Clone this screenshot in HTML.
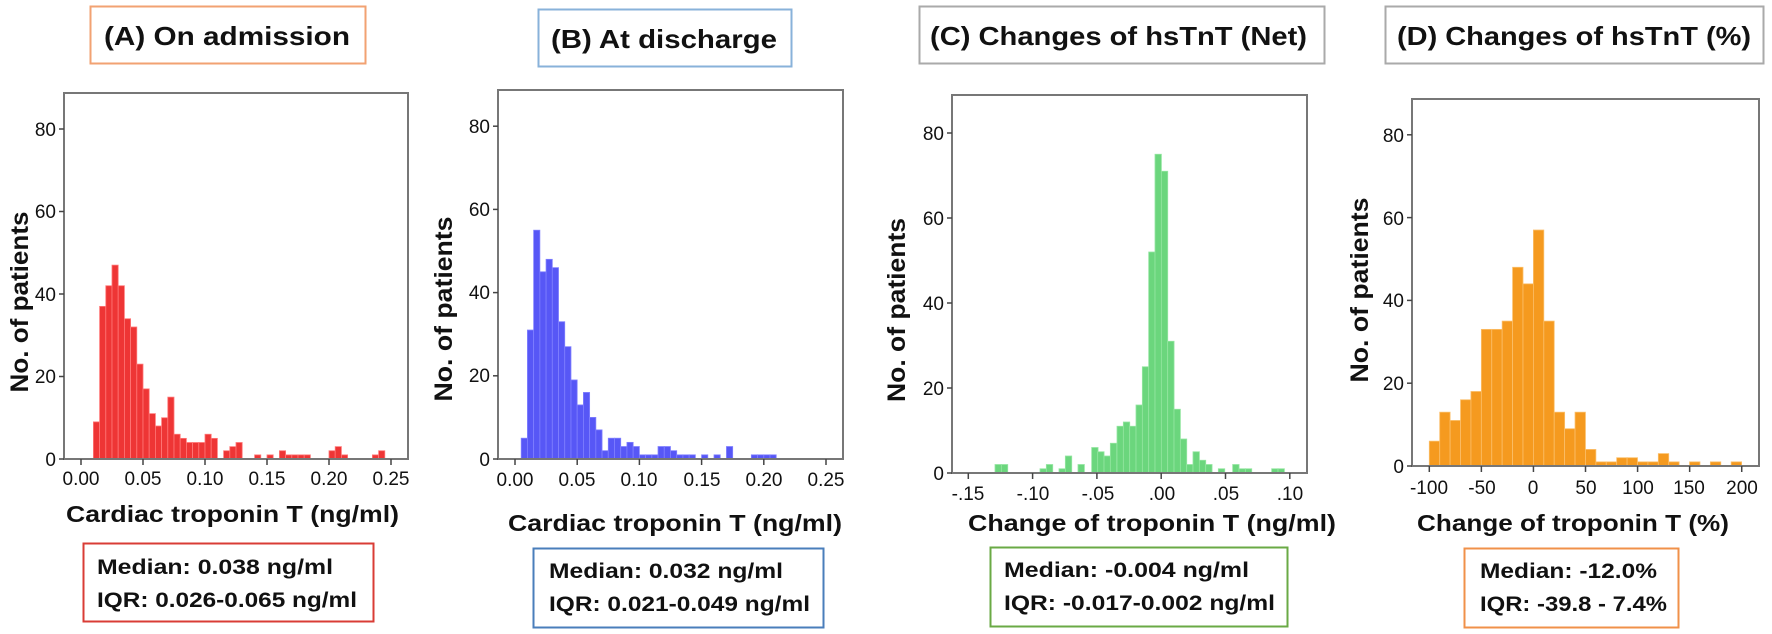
<!DOCTYPE html>
<html><head><meta charset="utf-8"><style>
html,body{margin:0;padding:0;background:#fff;}
svg{display:block;}
text{font-family:"Liberation Sans",sans-serif;fill:#111;}
.t{font-weight:bold;font-size:26px;}
.ax{font-weight:bold;font-size:23px;}
.st{font-weight:bold;font-size:21px;}
.yl{font-weight:bold;font-size:25px;}
.tk{font-size:19px;fill:#222;}
</style></head><body>
<svg id="s" width="1772" height="634" viewBox="0 0 1772 634" xmlns="http://www.w3.org/2000/svg">
<rect width="1772" height="634" fill="#fff"/>
<!-- title boxes -->
<rect x="90.5" y="6.5" width="275" height="57" fill="#fff" stroke="#f2a272" stroke-width="2"/>
<text class="t" x="104" y="45" textLength="246" lengthAdjust="spacingAndGlyphs">(A) On admission</text>
<rect x="538.5" y="9.5" width="253" height="57" fill="#fff" stroke="#88b2da" stroke-width="2"/>
<text class="t" x="551" y="48" textLength="226" lengthAdjust="spacingAndGlyphs">(B) At discharge</text>
<rect x="919.5" y="6.5" width="405" height="57" fill="#fff" stroke="#aaa" stroke-width="2"/>
<text class="t" x="930" y="45" textLength="377" lengthAdjust="spacingAndGlyphs">(C) Changes of hsTnT (Net)</text>
<rect x="1385.5" y="6.5" width="378" height="57" fill="#fff" stroke="#aaa" stroke-width="2"/>
<text class="t" x="1397" y="45" textLength="354" lengthAdjust="spacingAndGlyphs">(D) Changes of hsTnT (%)</text>

<g id="bars"></g>

<!-- frames -->
<rect x="64" y="93" width="344" height="366" fill="none" stroke="#777" stroke-width="2"/>
<rect x="498" y="90" width="345" height="369" fill="none" stroke="#777" stroke-width="2"/>
<rect x="952" y="95" width="355" height="378" fill="none" stroke="#777" stroke-width="2"/>
<rect x="1412" y="99" width="347" height="367" fill="none" stroke="#777" stroke-width="2"/>
<g id="ticks" stroke="#444" stroke-width="1.5"></g>

<!-- y tick labels -->
<g class="tk" text-anchor="end">
<text x="56" y="136">80</text><text x="56" y="218">60</text><text x="56" y="301">40</text><text x="56" y="383">20</text><text x="56" y="466">0</text>
<text x="490" y="133">80</text><text x="490" y="216">60</text><text x="490" y="299">40</text><text x="490" y="382">20</text><text x="490" y="466">0</text>
<text x="944" y="140">80</text><text x="944" y="225">60</text><text x="944" y="310">40</text><text x="944" y="395">20</text><text x="944" y="480">0</text>
<text x="1404" y="142">80</text><text x="1404" y="225">60</text><text x="1404" y="307">40</text><text x="1404" y="390">20</text><text x="1404" y="473">0</text>
</g>
<!-- x tick labels -->
<g class="tk" text-anchor="middle">
<text x="81" y="485">0.00</text><text x="143" y="485">0.05</text><text x="205" y="485">0.10</text><text x="267" y="485">0.15</text><text x="329" y="485">0.20</text><text x="391" y="485">0.25</text>
<text x="515" y="486">0.00</text><text x="577" y="486">0.05</text><text x="639" y="486">0.10</text><text x="702" y="486">0.15</text><text x="764" y="486">0.20</text><text x="826" y="486">0.25</text>
<text x="968" y="500">-.15</text><text x="1033" y="500">-.10</text><text x="1098" y="500">-.05</text><text x="1162" y="500">.00</text><text x="1226" y="500">.05</text><text x="1290" y="500">.10</text>
<text x="1429" y="494">-100</text><text x="1482" y="494">-50</text><text x="1533" y="494">0</text><text x="1586" y="494">50</text><text x="1638" y="494">100</text><text x="1689" y="494">150</text><text x="1742" y="494">200</text>
</g>

<!-- y axis titles -->
<text class="yl" transform="translate(28,302) rotate(-90)" text-anchor="middle" textLength="181" lengthAdjust="spacingAndGlyphs">No. of patients</text>
<text class="yl" transform="translate(452,309) rotate(-90)" text-anchor="middle" textLength="185" lengthAdjust="spacingAndGlyphs">No. of patients</text>
<text class="yl" transform="translate(905,310) rotate(-90)" text-anchor="middle" textLength="184" lengthAdjust="spacingAndGlyphs">No. of patients</text>
<text class="yl" transform="translate(1368,290) rotate(-90)" text-anchor="middle" textLength="185" lengthAdjust="spacingAndGlyphs">No. of patients</text>

<!-- x axis titles -->
<text class="ax" x="66" y="522" textLength="333" lengthAdjust="spacingAndGlyphs">Cardiac troponin T (ng/ml)</text>
<text class="ax" x="508" y="531" textLength="334" lengthAdjust="spacingAndGlyphs">Cardiac troponin T (ng/ml)</text>
<text class="ax" x="968" y="531" textLength="368" lengthAdjust="spacingAndGlyphs">Change of troponin T (ng/ml)</text>
<text class="ax" x="1417" y="531" textLength="312" lengthAdjust="spacingAndGlyphs">Change of troponin T (%)</text>

<!-- stats boxes -->
<rect x="83.5" y="543.5" width="290" height="78" fill="none" stroke="#d93c36" stroke-width="2"/>
<text class="st" x="97" y="574" textLength="236" lengthAdjust="spacingAndGlyphs">Median: 0.038 ng/ml</text>
<text class="st" x="97" y="607" textLength="260" lengthAdjust="spacingAndGlyphs">IQR: 0.026-0.065 ng/ml</text>
<rect x="533.5" y="548.5" width="290" height="79" fill="none" stroke="#4a7ebb" stroke-width="2"/>
<text class="st" x="549" y="578" textLength="234" lengthAdjust="spacingAndGlyphs">Median: 0.032 ng/ml</text>
<text class="st" x="549" y="611" textLength="261" lengthAdjust="spacingAndGlyphs">IQR: 0.021-0.049 ng/ml</text>
<rect x="990.5" y="547.5" width="297" height="79" fill="none" stroke="#6aaa45" stroke-width="2"/>
<text class="st" x="1004" y="577" textLength="245" lengthAdjust="spacingAndGlyphs">Median: -0.004 ng/ml</text>
<text class="st" x="1004" y="610" textLength="271" lengthAdjust="spacingAndGlyphs">IQR: -0.017-0.002 ng/ml</text>
<rect x="1464.5" y="548.5" width="214" height="79" fill="none" stroke="#f0914a" stroke-width="2"/>
<text class="st" x="1480" y="578" textLength="177" lengthAdjust="spacingAndGlyphs">Median: -12.0%</text>
<text class="st" x="1480" y="611" textLength="187" lengthAdjust="spacingAndGlyphs">IQR: -39.8 - 7.4%</text>
</svg>
<script>
var NS="http://www.w3.org/2000/svg";
var g=document.getElementById("bars"),tk=document.getElementById("ticks");
function r(x,y,w,h,f,s){var e=document.createElementNS(NS,"rect");e.setAttribute("x",x);e.setAttribute("y",y);e.setAttribute("width",w);e.setAttribute("height",h);e.setAttribute("fill",f);e.setAttribute("stroke",s);e.setAttribute("stroke-width","0.8");g.appendChild(e);}
function ln(x1,y1,x2,y2){var e=document.createElementNS(NS,"line");e.setAttribute("x1",x1);e.setAttribute("y1",y1);e.setAttribute("x2",x2);e.setAttribute("y2",y2);tk.appendChild(e);}
function hist(x0,bw,z,u,h,f,s){for(var i=0;i<h.length;i++){if(h[i]>0)r(x0+i*bw,z-h[i]*u,bw,h[i]*u,f,s);}}
hist(93.4,6.2,459,4.125,[9,37,42,47,42,34,32,23,17,11,8,10,15,6,5,4,4,4,6,5,0,2,3,4,0,0,1,0,1,0,2,1,1,1,1,0,0,0,2,3,1,0,0,0,0,1,2],"#ee3535","#f77");
hist(521.2,6.22,459,4.16,[5,31,55,45,48,46,33,27,19,13,16,10,7,2,5,5,3,4,3,1,1,1,3,3,2,1,1,1,0,1,0,1,0,3,0,0,0,1,1,1,1],"#5757f6","#8080ff");
var C=[[120,2],[139,2],[255,1],[274,2],[312,1],[331,4],[369,2],[410,6],[428,5],[447,4],[466,7],[486,11],[505,12],[524,11],[543,16],[562,25],[581,52],[600,75],[619,71],[638,31],[657,15],[676,8],[695,2],[714,5],[733,3],[752,2],[790,1],[833,2],[852,1],[871,1],[950,1],[969,1]];
C.forEach(function(c){var x=955+c[0]/3;r(x,473-c[1]*4.25,6.4,c[1]*4.25,"#6bd67d","#95e6a2");});
hist(1429.3,10.41,466,4.14,[6,13,11,16,18,33,33,35,48,44,57,35,13,9,13,4,1,1,2,2,1,1,3,1,0,1,0,1,0,1],"#f59a1f","#fbbf6a");
// y ticks
[[64,459,4.125],[498,459,4.16],[952,473,4.25],[1412,466,4.14]].forEach(function(p){for(var v=0;v<=80;v+=20){var y=p[1]-v*p[2];ln(p[0]-5,y,p[0],y);}});
// x ticks
[[81,62,459,6],[515,62.2,459,6],[968.3,64.3,473,6],[1429.3,52.07,466,7]].forEach(function(p){for(var i=0;i<p[3];i++){var x=p[0]+i*p[1];ln(x,p[2],x,p[2]+6);}});
</script>
</body></html>
